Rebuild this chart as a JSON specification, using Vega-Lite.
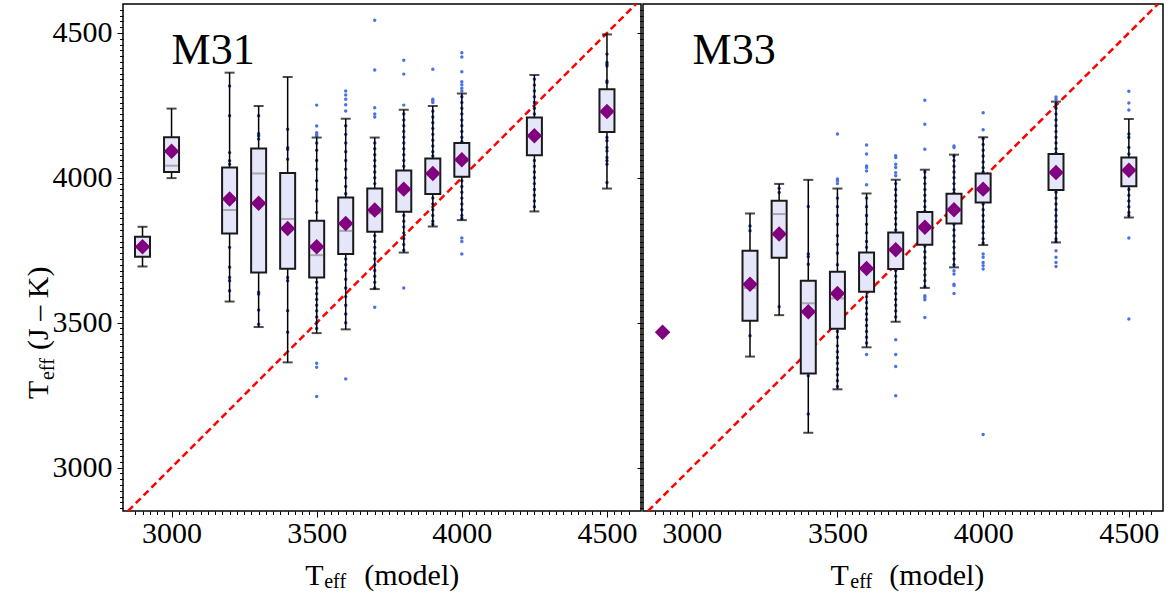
{
"$schema": "https://vega.github.io/schema/vega-lite/v6.json",
"padding": {"left": 23, "top": 2, "right": 0, "bottom": 0},
"bounds": "flush",
"spacing": 2,
"background": "white",
"config": {
 "view": {"stroke": "#000", "strokeWidth": 1.5},
 "axis": {"labelFont": "Liberation Serif", "labelFontSize": 30, "labelColor": "#000", "tickColor": "#000", "tickWidth": 1, "domain": false, "grid": false, "labelOverlap": false, "labelFlush": false},
 "axisX": {"labelPadding": 1},
 "axisY": {"labelPadding": 5},
 "text": {"font": "Liberation Serif", "color": "#000"}
},
"datasets": {
 "boxes": [
  {"g":"M31","t":2900,"lo":3694,"q1":3728,"med":3762,"q3":3797,"hi":3831,"mean":3762},
  {"g":"M31","t":3000,"lo":3999,"q1":4020,"med":4042,"q3":4140,"hi":4239,"mean":4092},
  {"g":"M31","t":3200,"lo":3573,"q1":3808,"med":3889,"q3":4036,"hi":4363,"mean":3927},
  {"g":"M31","t":3300,"lo":3485,"q1":3673,"med":4015,"q3":4101,"hi":4248,"mean":3912},
  {"g":"M31","t":3400,"lo":3363,"q1":3686,"med":3858,"q3":4017,"hi":4348,"mean":3825},
  {"g":"M31","t":3500,"lo":3464,"q1":3656,"med":3733,"q3":3852,"hi":4139,"mean":3762},
  {"g":"M31","t":3600,"lo":3477,"q1":3737,"med":3817,"q3":3932,"hi":4204,"mean":3842},
  {"g":"M31","t":3700,"lo":3616,"q1":3814,"med":3878,"q3":3963,"hi":4139,"mean":3889},
  {"g":"M31","t":3800,"lo":3742,"q1":3883,"med":3958,"q3":4025,"hi":4235,"mean":3961},
  {"g":"M31","t":3900,"lo":3832,"q1":3944,"med":4012,"q3":4067,"hi":4248,"mean":4015},
  {"g":"M31","t":4000,"lo":3854,"q1":4004,"med":4062,"q3":4120,"hi":4291,"mean":4062},
  {"g":"M31","t":4250,"lo":3884,"q1":4078,"med":4145,"q3":4208,"hi":4355,"mean":4145},
  {"g":"M31","t":4500,"lo":3963,"q1":4158,"med":4229,"q3":4306,"hi":4495,"mean":4229},
  {"g":"M33","t":2900,"mean":3467},
  {"g":"M33","t":3200,"lo":3383,"q1":3507,"med":3620,"q3":3748,"hi":3877,"mean":3633},
  {"g":"M33","t":3300,"lo":3526,"q1":3724,"med":3875,"q3":3921,"hi":3979,"mean":3806},
  {"g":"M33","t":3400,"lo":3120,"q1":3325,"med":3567,"q3":3645,"hi":3993,"mean":3538},
  {"g":"M33","t":3500,"lo":3270,"q1":3479,"med":3584,"q3":3676,"hi":3963,"mean":3601},
  {"g":"M33","t":3600,"lo":3415,"q1":3607,"med":3685,"q3":3742,"hi":3946,"mean":3687},
  {"g":"M33","t":3700,"lo":3503,"q1":3685,"med":3752,"q3":3811,"hi":3993,"mean":3752},
  {"g":"M33","t":3800,"lo":3620,"q1":3769,"med":3829,"q3":3882,"hi":4028,"mean":3829},
  {"g":"M33","t":3900,"lo":3691,"q1":3842,"med":3890,"q3":3945,"hi":4080,"mean":3890},
  {"g":"M33","t":4000,"lo":3768,"q1":3915,"med":3961,"q3":4015,"hi":4140,"mean":3961},
  {"g":"M33","t":4250,"lo":3777,"q1":3958,"med":4018,"q3":4082,"hi":4263,"mean":4018},
  {"g":"M33","t":4500,"lo":3863,"q1":3971,"med":4026,"q3":4070,"hi":4203,"mean":4026}
 ],
 "pts": [
  {"g":"M31","t":3500,"v":4251,"k":"o"},{"g":"M31","t":3500,"v":4179,"k":"o"},{"g":"M31","t":3500,"v":4156,"k":"o"},{"g":"M31","t":3500,"v":4151,"k":"o"},{"g":"M31","t":3500,"v":4145,"k":"o"},{"g":"M31","t":3500,"v":3360,"k":"o"},{"g":"M31","t":3500,"v":3346,"k":"o"},{"g":"M31","t":3500,"v":3245,"k":"o"},
  {"g":"M31","t":3600,"v":4300,"k":"o"},{"g":"M31","t":3600,"v":4286,"k":"o"},{"g":"M31","t":3600,"v":4271,"k":"o"},{"g":"M31","t":3600,"v":4252,"k":"o"},{"g":"M31","t":3600,"v":4231,"k":"o"},{"g":"M31","t":3600,"v":3306,"k":"o"},
  {"g":"M31","t":3700,"v":4544,"k":"o"},{"g":"M31","t":3700,"v":4372,"k":"o"},{"g":"M31","t":3700,"v":4242,"k":"o"},{"g":"M31","t":3700,"v":4220,"k":"o"},{"g":"M31","t":3700,"v":4210,"k":"o"},{"g":"M31","t":3700,"v":3553,"k":"o"},
  {"g":"M31","t":3800,"v":4406,"k":"o"},{"g":"M31","t":3800,"v":4358,"k":"o"},{"g":"M31","t":3800,"v":4251,"k":"o"},{"g":"M31","t":3800,"v":3620,"k":"o"},
  {"g":"M31","t":3900,"v":4375,"k":"o"},{"g":"M31","t":3900,"v":4271,"k":"o"},{"g":"M31","t":3900,"v":4266,"k":"o"},{"g":"M31","t":3900,"v":4260,"k":"o"},
  {"g":"M31","t":4000,"v":4432,"k":"o"},{"g":"M31","t":4000,"v":4417,"k":"o"},{"g":"M31","t":4000,"v":4366,"k":"o"},{"g":"M31","t":4000,"v":4332,"k":"o"},{"g":"M31","t":4000,"v":4321,"k":"o"},{"g":"M31","t":4000,"v":4309,"k":"o"},{"g":"M31","t":4000,"v":4300,"k":"o"},{"g":"M31","t":4000,"v":3792,"k":"o"},{"g":"M31","t":4000,"v":3780,"k":"o"},{"g":"M31","t":4000,"v":3737,"k":"o"},
  {"g":"M31","t":3200,"v":4317,"k":"i"},{"g":"M31","t":3200,"v":4214,"k":"i"},{"g":"M31","t":3200,"v":4087,"k":"i"},{"g":"M31","t":3200,"v":4059,"k":"i"},{"g":"M31","t":3200,"v":4047,"k":"i"},{"g":"M31","t":3200,"v":3760,"k":"i"},{"g":"M31","t":3200,"v":3691,"k":"i"},{"g":"M31","t":3200,"v":3656,"k":"i"},{"g":"M31","t":3200,"v":3645,"k":"i"},{"g":"M31","t":3200,"v":3610,"k":"i"},
  {"g":"M31","t":3300,"v":4214,"k":"i"},{"g":"M31","t":3300,"v":4152,"k":"i"},{"g":"M31","t":3300,"v":4145,"k":"i"},{"g":"M31","t":3300,"v":4134,"k":"i"},{"g":"M31","t":3300,"v":3605,"k":"i"},{"g":"M31","t":3300,"v":3599,"k":"i"},{"g":"M31","t":3300,"v":3544,"k":"i"},{"g":"M31","t":3300,"v":3495,"k":"i"},
  {"g":"M31","t":3400,"v":4168,"k":"i"},{"g":"M31","t":3400,"v":4104,"k":"i"},{"g":"M31","t":3400,"v":4099,"k":"i"},{"g":"M31","t":3400,"v":4064,"k":"i"},{"g":"M31","t":3400,"v":3656,"k":"i"},{"g":"M31","t":3400,"v":3645,"k":"i"},{"g":"M31","t":3400,"v":3541,"k":"i"},{"g":"M31","t":3400,"v":3467,"k":"i"},
  {"g":"M31","t":3500,"v":4120,"k":"i"},{"g":"M31","t":3500,"v":4095,"k":"i"},{"g":"M31","t":3500,"v":4060,"k":"i"},{"g":"M31","t":3500,"v":4030,"k":"i"},{"g":"M31","t":3500,"v":3990,"k":"i"},{"g":"M31","t":3500,"v":3960,"k":"i"},{"g":"M31","t":3500,"v":3920,"k":"i"},{"g":"M31","t":3500,"v":3880,"k":"i"},{"g":"M31","t":3500,"v":3640,"k":"i"},{"g":"M31","t":3500,"v":3620,"k":"i"},{"g":"M31","t":3500,"v":3600,"k":"i"},{"g":"M31","t":3500,"v":3580,"k":"i"},{"g":"M31","t":3500,"v":3560,"k":"i"},{"g":"M31","t":3500,"v":3540,"k":"i"},{"g":"M31","t":3500,"v":3520,"k":"i"},{"g":"M31","t":3500,"v":3500,"k":"i"},{"g":"M31","t":3500,"v":3480,"k":"i"},
  {"g":"M31","t":3600,"v":4180,"k":"i"},{"g":"M31","t":3600,"v":4150,"k":"i"},{"g":"M31","t":3600,"v":4120,"k":"i"},{"g":"M31","t":3600,"v":4090,"k":"i"},{"g":"M31","t":3600,"v":4060,"k":"i"},{"g":"M31","t":3600,"v":4030,"k":"i"},{"g":"M31","t":3600,"v":4000,"k":"i"},{"g":"M31","t":3600,"v":3970,"k":"i"},{"g":"M31","t":3600,"v":3945,"k":"i"},{"g":"M31","t":3600,"v":3720,"k":"i"},{"g":"M31","t":3600,"v":3700,"k":"i"},{"g":"M31","t":3600,"v":3680,"k":"i"},{"g":"M31","t":3600,"v":3650,"k":"i"},{"g":"M31","t":3600,"v":3620,"k":"i"},{"g":"M31","t":3600,"v":3590,"k":"i"},{"g":"M31","t":3600,"v":3560,"k":"i"},{"g":"M31","t":3600,"v":3530,"k":"i"},{"g":"M31","t":3600,"v":3500,"k":"i"},
  {"g":"M31","t":3700,"v":4120,"k":"i"},{"g":"M31","t":3700,"v":4100,"k":"i"},{"g":"M31","t":3700,"v":4080,"k":"i"},{"g":"M31","t":3700,"v":4060,"k":"i"},{"g":"M31","t":3700,"v":4040,"k":"i"},{"g":"M31","t":3700,"v":4020,"k":"i"},{"g":"M31","t":3700,"v":4000,"k":"i"},{"g":"M31","t":3700,"v":3980,"k":"i"},{"g":"M31","t":3700,"v":3800,"k":"i"},{"g":"M31","t":3700,"v":3780,"k":"i"},{"g":"M31","t":3700,"v":3760,"k":"i"},{"g":"M31","t":3700,"v":3740,"k":"i"},{"g":"M31","t":3700,"v":3720,"k":"i"},{"g":"M31","t":3700,"v":3700,"k":"i"},{"g":"M31","t":3700,"v":3680,"k":"i"},{"g":"M31","t":3700,"v":3660,"k":"i"},{"g":"M31","t":3700,"v":3640,"k":"i"},{"g":"M31","t":3700,"v":3620,"k":"i"},
  {"g":"M31","t":3800,"v":4220,"k":"i"},{"g":"M31","t":3800,"v":4200,"k":"i"},{"g":"M31","t":3800,"v":4180,"k":"i"},{"g":"M31","t":3800,"v":4160,"k":"i"},{"g":"M31","t":3800,"v":4140,"k":"i"},{"g":"M31","t":3800,"v":4120,"k":"i"},{"g":"M31","t":3800,"v":4100,"k":"i"},{"g":"M31","t":3800,"v":4080,"k":"i"},{"g":"M31","t":3800,"v":4060,"k":"i"},{"g":"M31","t":3800,"v":4040,"k":"i"},{"g":"M31","t":3800,"v":3870,"k":"i"},{"g":"M31","t":3800,"v":3850,"k":"i"},{"g":"M31","t":3800,"v":3830,"k":"i"},{"g":"M31","t":3800,"v":3810,"k":"i"},{"g":"M31","t":3800,"v":3790,"k":"i"},{"g":"M31","t":3800,"v":3770,"k":"i"},{"g":"M31","t":3800,"v":3750,"k":"i"},
  {"g":"M31","t":3900,"v":4230,"k":"i"},{"g":"M31","t":3900,"v":4210,"k":"i"},{"g":"M31","t":3900,"v":4190,"k":"i"},{"g":"M31","t":3900,"v":4170,"k":"i"},{"g":"M31","t":3900,"v":4150,"k":"i"},{"g":"M31","t":3900,"v":4130,"k":"i"},{"g":"M31","t":3900,"v":4110,"k":"i"},{"g":"M31","t":3900,"v":4090,"k":"i"},{"g":"M31","t":3900,"v":4075,"k":"i"},{"g":"M31","t":3900,"v":3930,"k":"i"},{"g":"M31","t":3900,"v":3910,"k":"i"},{"g":"M31","t":3900,"v":3890,"k":"i"},{"g":"M31","t":3900,"v":3870,"k":"i"},{"g":"M31","t":3900,"v":3850,"k":"i"},{"g":"M31","t":3900,"v":3840,"k":"i"},
  {"g":"M31","t":4000,"v":4280,"k":"i"},{"g":"M31","t":4000,"v":4260,"k":"i"},{"g":"M31","t":4000,"v":4240,"k":"i"},{"g":"M31","t":4000,"v":4220,"k":"i"},{"g":"M31","t":4000,"v":4200,"k":"i"},{"g":"M31","t":4000,"v":4180,"k":"i"},{"g":"M31","t":4000,"v":4160,"k":"i"},{"g":"M31","t":4000,"v":4140,"k":"i"},{"g":"M31","t":4000,"v":4125,"k":"i"},{"g":"M31","t":4000,"v":3990,"k":"i"},{"g":"M31","t":4000,"v":3970,"k":"i"},{"g":"M31","t":4000,"v":3950,"k":"i"},{"g":"M31","t":4000,"v":3930,"k":"i"},{"g":"M31","t":4000,"v":3910,"k":"i"},{"g":"M31","t":4000,"v":3890,"k":"i"},{"g":"M31","t":4000,"v":3870,"k":"i"},{"g":"M31","t":4000,"v":3860,"k":"i"},
  {"g":"M31","t":4250,"v":4340,"k":"i"},{"g":"M31","t":4250,"v":4320,"k":"i"},{"g":"M31","t":4250,"v":4300,"k":"i"},{"g":"M31","t":4250,"v":4280,"k":"i"},{"g":"M31","t":4250,"v":4260,"k":"i"},{"g":"M31","t":4250,"v":4240,"k":"i"},{"g":"M31","t":4250,"v":4220,"k":"i"},{"g":"M31","t":4250,"v":4060,"k":"i"},{"g":"M31","t":4250,"v":4040,"k":"i"},{"g":"M31","t":4250,"v":4020,"k":"i"},{"g":"M31","t":4250,"v":4000,"k":"i"},{"g":"M31","t":4250,"v":3980,"k":"i"},{"g":"M31","t":4250,"v":3960,"k":"i"},{"g":"M31","t":4250,"v":3940,"k":"i"},{"g":"M31","t":4250,"v":3920,"k":"i"},{"g":"M31","t":4250,"v":3900,"k":"i"},
  {"g":"M31","t":4500,"v":4427,"k":"i"},{"g":"M31","t":4500,"v":4398,"k":"i"},{"g":"M31","t":4500,"v":4392,"k":"i"},{"g":"M31","t":4500,"v":4386,"k":"i"},{"g":"M31","t":4500,"v":4334,"k":"i"},{"g":"M31","t":4500,"v":4329,"k":"i"},{"g":"M31","t":4500,"v":4139,"k":"i"},{"g":"M31","t":4500,"v":4128,"k":"i"},{"g":"M31","t":4500,"v":4105,"k":"i"},{"g":"M31","t":4500,"v":4093,"k":"i"},{"g":"M31","t":4500,"v":4070,"k":"i"},{"g":"M31","t":4500,"v":4059,"k":"i"},{"g":"M31","t":4500,"v":4047,"k":"i"},{"g":"M31","t":4500,"v":3984,"k":"i"},
  {"g":"M33","t":3500,"v":4151,"k":"o"},{"g":"M33","t":3500,"v":3996,"k":"o"},{"g":"M33","t":3500,"v":3990,"k":"o"},{"g":"M33","t":3500,"v":3980,"k":"o"},
  {"g":"M33","t":3600,"v":4113,"k":"o"},{"g":"M33","t":3600,"v":4082,"k":"o"},{"g":"M33","t":3600,"v":4041,"k":"o"},{"g":"M33","t":3600,"v":4036,"k":"o"},{"g":"M33","t":3600,"v":4024,"k":"o"},{"g":"M33","t":3600,"v":3976,"k":"o"},{"g":"M33","t":3600,"v":3390,"k":"o"},
  {"g":"M33","t":3700,"v":4076,"k":"o"},{"g":"M33","t":3700,"v":4070,"k":"o"},{"g":"M33","t":3700,"v":4047,"k":"o"},{"g":"M33","t":3700,"v":4036,"k":"o"},{"g":"M33","t":3700,"v":4018,"k":"o"},{"g":"M33","t":3700,"v":4007,"k":"o"},{"g":"M33","t":3700,"v":3441,"k":"o"},{"g":"M33","t":3700,"v":3390,"k":"o"},{"g":"M33","t":3700,"v":3349,"k":"o"},{"g":"M33","t":3700,"v":3248,"k":"o"},
  {"g":"M33","t":3800,"v":4268,"k":"o"},{"g":"M33","t":3800,"v":4185,"k":"o"},{"g":"M33","t":3800,"v":4099,"k":"o"},{"g":"M33","t":3800,"v":3593,"k":"o"},{"g":"M33","t":3800,"v":3587,"k":"o"},{"g":"M33","t":3800,"v":3579,"k":"o"},{"g":"M33","t":3800,"v":3518,"k":"o"},
  {"g":"M33","t":3900,"v":4110,"k":"o"},{"g":"M33","t":3900,"v":4105,"k":"o"},{"g":"M33","t":3900,"v":3679,"k":"o"},{"g":"M33","t":3900,"v":3668,"k":"o"},{"g":"M33","t":3900,"v":3633,"k":"o"},{"g":"M33","t":3900,"v":3628,"k":"o"},{"g":"M33","t":3900,"v":3601,"k":"o"},
  {"g":"M33","t":4000,"v":4225,"k":"o"},{"g":"M33","t":4000,"v":4166,"k":"o"},{"g":"M33","t":4000,"v":3737,"k":"o"},{"g":"M33","t":4000,"v":3726,"k":"o"},{"g":"M33","t":4000,"v":3708,"k":"o"},{"g":"M33","t":4000,"v":3697,"k":"o"},{"g":"M33","t":4000,"v":3685,"k":"o"},{"g":"M33","t":4000,"v":3114,"k":"o"},
  {"g":"M33","t":4250,"v":4279,"k":"o"},{"g":"M33","t":4250,"v":4271,"k":"o"},{"g":"M33","t":4250,"v":3748,"k":"o"},{"g":"M33","t":4250,"v":3726,"k":"o"},{"g":"M33","t":4250,"v":3708,"k":"o"},{"g":"M33","t":4250,"v":3694,"k":"o"},
  {"g":"M33","t":4500,"v":4299,"k":"o"},{"g":"M33","t":4500,"v":4258,"k":"o"},{"g":"M33","t":4500,"v":4234,"k":"o"},{"g":"M33","t":4500,"v":3792,"k":"o"},{"g":"M33","t":4500,"v":3513,"k":"o"},
  {"g":"M33","t":3200,"v":3834,"k":"i"},{"g":"M33","t":3200,"v":3817,"k":"i"},{"g":"M33","t":3200,"v":3455,"k":"i"},
  {"g":"M33","t":3300,"v":3964,"k":"i"},{"g":"M33","t":3300,"v":3949,"k":"i"},{"g":"M33","t":3300,"v":3555,"k":"i"},
  {"g":"M33","t":3400,"v":3901,"k":"i"},{"g":"M33","t":3400,"v":3737,"k":"i"},{"g":"M33","t":3400,"v":3728,"k":"i"},{"g":"M33","t":3400,"v":3702,"k":"i"},{"g":"M33","t":3400,"v":3317,"k":"i"},{"g":"M33","t":3400,"v":3185,"k":"i"},
  {"g":"M33","t":3500,"v":3930,"k":"i"},{"g":"M33","t":3500,"v":3900,"k":"i"},{"g":"M33","t":3500,"v":3870,"k":"i"},{"g":"M33","t":3500,"v":3840,"k":"i"},{"g":"M33","t":3500,"v":3800,"k":"i"},{"g":"M33","t":3500,"v":3770,"k":"i"},{"g":"M33","t":3500,"v":3740,"k":"i"},{"g":"M33","t":3500,"v":3700,"k":"i"},{"g":"M33","t":3500,"v":3470,"k":"i"},{"g":"M33","t":3500,"v":3450,"k":"i"},{"g":"M33","t":3500,"v":3420,"k":"i"},{"g":"M33","t":3500,"v":3400,"k":"i"},{"g":"M33","t":3500,"v":3380,"k":"i"},{"g":"M33","t":3500,"v":3360,"k":"i"},{"g":"M33","t":3500,"v":3340,"k":"i"},{"g":"M33","t":3500,"v":3320,"k":"i"},{"g":"M33","t":3500,"v":3300,"k":"i"},{"g":"M33","t":3500,"v":3280,"k":"i"},
  {"g":"M33","t":3600,"v":3930,"k":"i"},{"g":"M33","t":3600,"v":3900,"k":"i"},{"g":"M33","t":3600,"v":3870,"k":"i"},{"g":"M33","t":3600,"v":3840,"k":"i"},{"g":"M33","t":3600,"v":3810,"k":"i"},{"g":"M33","t":3600,"v":3780,"k":"i"},{"g":"M33","t":3600,"v":3760,"k":"i"},{"g":"M33","t":3600,"v":3590,"k":"i"},{"g":"M33","t":3600,"v":3570,"k":"i"},{"g":"M33","t":3600,"v":3550,"k":"i"},{"g":"M33","t":3600,"v":3530,"k":"i"},{"g":"M33","t":3600,"v":3510,"k":"i"},{"g":"M33","t":3600,"v":3490,"k":"i"},{"g":"M33","t":3600,"v":3470,"k":"i"},{"g":"M33","t":3600,"v":3450,"k":"i"},{"g":"M33","t":3600,"v":3430,"k":"i"},
  {"g":"M33","t":3700,"v":3980,"k":"i"},{"g":"M33","t":3700,"v":3960,"k":"i"},{"g":"M33","t":3700,"v":3940,"k":"i"},{"g":"M33","t":3700,"v":3920,"k":"i"},{"g":"M33","t":3700,"v":3900,"k":"i"},{"g":"M33","t":3700,"v":3880,"k":"i"},{"g":"M33","t":3700,"v":3860,"k":"i"},{"g":"M33","t":3700,"v":3840,"k":"i"},{"g":"M33","t":3700,"v":3820,"k":"i"},{"g":"M33","t":3700,"v":3680,"k":"i"},{"g":"M33","t":3700,"v":3660,"k":"i"},{"g":"M33","t":3700,"v":3640,"k":"i"},{"g":"M33","t":3700,"v":3620,"k":"i"},{"g":"M33","t":3700,"v":3600,"k":"i"},{"g":"M33","t":3700,"v":3580,"k":"i"},{"g":"M33","t":3700,"v":3560,"k":"i"},{"g":"M33","t":3700,"v":3540,"k":"i"},{"g":"M33","t":3700,"v":3520,"k":"i"},
  {"g":"M33","t":3800,"v":4020,"k":"i"},{"g":"M33","t":3800,"v":4000,"k":"i"},{"g":"M33","t":3800,"v":3980,"k":"i"},{"g":"M33","t":3800,"v":3960,"k":"i"},{"g":"M33","t":3800,"v":3940,"k":"i"},{"g":"M33","t":3800,"v":3920,"k":"i"},{"g":"M33","t":3800,"v":3900,"k":"i"},{"g":"M33","t":3800,"v":3885,"k":"i"},{"g":"M33","t":3800,"v":3765,"k":"i"},{"g":"M33","t":3800,"v":3745,"k":"i"},{"g":"M33","t":3800,"v":3725,"k":"i"},{"g":"M33","t":3800,"v":3705,"k":"i"},{"g":"M33","t":3800,"v":3685,"k":"i"},{"g":"M33","t":3800,"v":3665,"k":"i"},{"g":"M33","t":3800,"v":3645,"k":"i"},{"g":"M33","t":3800,"v":3625,"k":"i"},
  {"g":"M33","t":3900,"v":4075,"k":"i"},{"g":"M33","t":3900,"v":4060,"k":"i"},{"g":"M33","t":3900,"v":4040,"k":"i"},{"g":"M33","t":3900,"v":4020,"k":"i"},{"g":"M33","t":3900,"v":4000,"k":"i"},{"g":"M33","t":3900,"v":3980,"k":"i"},{"g":"M33","t":3900,"v":3960,"k":"i"},{"g":"M33","t":3900,"v":3948,"k":"i"},{"g":"M33","t":3900,"v":3840,"k":"i"},{"g":"M33","t":3900,"v":3820,"k":"i"},{"g":"M33","t":3900,"v":3800,"k":"i"},{"g":"M33","t":3900,"v":3780,"k":"i"},{"g":"M33","t":3900,"v":3760,"k":"i"},{"g":"M33","t":3900,"v":3740,"k":"i"},{"g":"M33","t":3900,"v":3720,"k":"i"},{"g":"M33","t":3900,"v":3700,"k":"i"},
  {"g":"M33","t":4000,"v":4135,"k":"i"},{"g":"M33","t":4000,"v":4115,"k":"i"},{"g":"M33","t":4000,"v":4095,"k":"i"},{"g":"M33","t":4000,"v":4075,"k":"i"},{"g":"M33","t":4000,"v":4055,"k":"i"},{"g":"M33","t":4000,"v":4035,"k":"i"},{"g":"M33","t":4000,"v":4020,"k":"i"},{"g":"M33","t":4000,"v":3910,"k":"i"},{"g":"M33","t":4000,"v":3890,"k":"i"},{"g":"M33","t":4000,"v":3870,"k":"i"},{"g":"M33","t":4000,"v":3850,"k":"i"},{"g":"M33","t":4000,"v":3830,"k":"i"},{"g":"M33","t":4000,"v":3810,"k":"i"},{"g":"M33","t":4000,"v":3790,"k":"i"},{"g":"M33","t":4000,"v":3775,"k":"i"},
  {"g":"M33","t":4250,"v":4255,"k":"i"},{"g":"M33","t":4250,"v":4240,"k":"i"},{"g":"M33","t":4250,"v":4220,"k":"i"},{"g":"M33","t":4250,"v":4200,"k":"i"},{"g":"M33","t":4250,"v":4180,"k":"i"},{"g":"M33","t":4250,"v":4160,"k":"i"},{"g":"M33","t":4250,"v":4140,"k":"i"},{"g":"M33","t":4250,"v":4120,"k":"i"},{"g":"M33","t":4250,"v":4100,"k":"i"},{"g":"M33","t":4250,"v":4085,"k":"i"},{"g":"M33","t":4250,"v":3950,"k":"i"},{"g":"M33","t":4250,"v":3930,"k":"i"},{"g":"M33","t":4250,"v":3910,"k":"i"},{"g":"M33","t":4250,"v":3890,"k":"i"},{"g":"M33","t":4250,"v":3870,"k":"i"},{"g":"M33","t":4250,"v":3850,"k":"i"},{"g":"M33","t":4250,"v":3830,"k":"i"},{"g":"M33","t":4250,"v":3810,"k":"i"},{"g":"M33","t":4250,"v":3790,"k":"i"},{"g":"M33","t":4250,"v":3780,"k":"i"},
  {"g":"M33","t":4500,"v":4151,"k":"i"},{"g":"M33","t":4500,"v":4139,"k":"i"},{"g":"M33","t":4500,"v":4105,"k":"i"},{"g":"M33","t":4500,"v":4082,"k":"i"},{"g":"M33","t":4500,"v":3960,"k":"i"},{"g":"M33","t":4500,"v":3940,"k":"i"},{"g":"M33","t":4500,"v":3920,"k":"i"},{"g":"M33","t":4500,"v":3900,"k":"i"},{"g":"M33","t":4500,"v":3880,"k":"i"},{"g":"M33","t":4500,"v":3870,"k":"i"}
 ]
},
"hconcat": [
 {
  "width": 518, "height": 507,
  "layer": [
   {"data": {"values": [{}]}, "mark": {"type": "rule", "color": "#ff0000", "strokeWidth": 2.5, "strokeDash": [7, 4]},
    "encoding": {
     "x": {"datum": 2850, "type": "quantitative", "scale": {"domain": [2850, 4600], "nice": false, "zero": false},
      "axis": {"title": null, "format": "d", "labelFont": "Liberation Serif", "labelFontSize": {"condition": {"test": "datum.value % 500 === 0", "value": 30}, "value": 1}, "tickCount": 200, "values": [2875,2900,2925,2950,2975,3000,3025,3050,3075,3100,3125,3150,3175,3200,3225,3250,3275,3300,3325,3350,3375,3400,3425,3450,3475,3500,3525,3550,3575,3600,3625,3650,3675,3700,3725,3750,3775,3800,3825,3850,3875,3900,3925,3950,3975,4000,4025,4050,4075,4100,4125,4150,4175,4200,4225,4250,4275,4300,4325,4350,4375,4400,4425,4450,4475,4500,4525,4550,4575], "labelExpr": "datum.value % 500 === 0 ? datum.label : ''", "tickSize": {"condition": {"test": "datum.value % 500 === 0", "value": 6}, "value": 3.5}}},
     "y": {"datum": 2850, "type": "quantitative", "scale": {"domain": [2850, 4600], "nice": false, "zero": false},
      "axis": {"title": null, "format": "d", "labelFont": "Liberation Serif", "labelFontSize": {"condition": {"test": "datum.value % 500 === 0", "value": 30}, "value": 1}, "tickCount": 200, "values": [2860,2880,2900,2920,2940,2960,2980,3000,3020,3040,3060,3080,3100,3120,3140,3160,3180,3200,3220,3240,3260,3280,3300,3320,3340,3360,3380,3400,3420,3440,3460,3480,3500,3520,3540,3560,3580,3600,3620,3640,3660,3680,3700,3720,3740,3760,3780,3800,3820,3840,3860,3880,3900,3920,3940,3960,3980,4000,4020,4040,4060,4080,4100,4120,4140,4160,4180,4200,4220,4240,4260,4280,4300,4320,4340,4360,4380,4400,4420,4440,4460,4480,4500,4520,4540,4560,4580], "labelExpr": "datum.value % 500 === 0 ? datum.label : ''", "tickSize": {"condition": {"test": "datum.value % 500 === 0", "value": 6}, "value": 3.5}}},
     "x2": {"datum": 4600}, "y2": {"datum": 4600}
    }},
   {"data": {"name": "pts"}, "transform": [{"filter": "datum.g === 'M31'"}],
    "mark": {"type": "point", "shape": "circle", "filled": true, "size": 12, "opacity": 1},
    "encoding": {"x": {"field": "t", "type": "quantitative", "title": null}, "y": {"field": "v", "type": "quantitative", "title": null},
     "color": {"field": "k", "type": "nominal", "scale": {"domain": ["i", "o"], "range": ["#2440b0", "#4a72e8"]}, "legend": null}}},
   {"data": {"name": "boxes"}, "transform": [{"filter": "datum.g === 'M31'"}],
    "mark": {"type": "rule", "color": "#000", "strokeWidth": 1.5},
    "encoding": {"x": {"field": "t", "type": "quantitative", "title": null}, "y": {"field": "lo", "type": "quantitative", "title": null}, "y2": {"field": "hi"}}},
   {"data": {"name": "boxes"}, "transform": [{"filter": "datum.g === 'M31'"}],
    "mark": {"type": "tick", "orient": "horizontal", "size": 10, "thickness": 2, "color": "#000"},
    "encoding": {"x": {"field": "t", "type": "quantitative", "title": null}, "y": {"field": "lo", "type": "quantitative", "title": null}}},
   {"data": {"name": "boxes"}, "transform": [{"filter": "datum.g === 'M31'"}],
    "mark": {"type": "tick", "orient": "horizontal", "size": 10, "thickness": 2, "color": "#000"},
    "encoding": {"x": {"field": "t", "type": "quantitative", "title": null}, "y": {"field": "hi", "type": "quantitative", "title": null}}},
   {"data": {"name": "boxes"}, "transform": [{"filter": "datum.g === 'M31'"}],
    "mark": {"type": "bar", "width": 15, "fill": "#e6e6fa", "stroke": "#1a1a1a", "strokeWidth": 2},
    "encoding": {"x": {"field": "t", "type": "quantitative", "title": null}, "y": {"field": "q1", "type": "quantitative", "title": null}, "y2": {"field": "q3"}}},
   {"data": {"name": "boxes"}, "transform": [{"filter": "datum.g === 'M31'"}],
    "mark": {"type": "tick", "orient": "horizontal", "size": 13, "thickness": 2, "color": "#8c8c8c"},
    "encoding": {"x": {"field": "t", "type": "quantitative", "title": null}, "y": {"field": "med", "type": "quantitative", "title": null}}},
   {"data": {"name": "boxes"}, "transform": [{"filter": "datum.g === 'M31'"}],
    "mark": {"type": "point", "shape": "diamond", "filled": true, "size": 240, "color": "#800080", "opacity": 1},
    "encoding": {"x": {"field": "t", "type": "quantitative", "title": null}, "y": {"field": "mean", "type": "quantitative", "title": null}}},
   {"data": {"values": [{"label": "M31"}]}, "mark": {"type": "text", "font": "Liberation Serif", "fontSize": 44, "align": "left", "baseline": "alphabetic"},
    "encoding": {"x": {"datum": 3000}, "y": {"datum": 4393}, "text": {"field": "label"}}},
   {"data": {"values": [{"label": "T"}]}, "mark": {"type": "text", "font": "Liberation Serif", "fontSize": 30, "align": "left", "baseline": "alphabetic"},
    "encoding": {"x": {"datum": 3461}, "y": {"datum": 2593}, "text": {"field": "label"}}},
   {"data": {"values": [{"label": "eff"}]}, "mark": {"type": "text", "font": "Liberation Serif", "fontSize": 20, "align": "left", "baseline": "alphabetic"},
    "encoding": {"x": {"datum": 3526}, "y": {"datum": 2583}, "text": {"field": "label"}}},
   {"data": {"values": [{"label": "(model)"}]}, "mark": {"type": "text", "font": "Liberation Serif", "fontSize": 30, "align": "left", "baseline": "alphabetic"},
    "encoding": {"x": {"datum": 3664}, "y": {"datum": 2593}, "text": {"field": "label"}}},
   {"data": {"values": [{"label": "T"}]}, "mark": {"type": "text", "font": "Liberation Serif", "fontSize": 30, "align": "left", "baseline": "alphabetic", "angle": 270},
    "encoding": {"x": {"datum": 2576}, "y": {"datum": 3237}, "text": {"field": "label"}}},
   {"data": {"values": [{"label": "eff"}]}, "mark": {"type": "text", "font": "Liberation Serif", "fontSize": 20, "align": "left", "baseline": "alphabetic", "angle": 270},
    "encoding": {"x": {"datum": 2594}, "y": {"datum": 3302}, "text": {"field": "label"}}},
   {"data": {"values": [{"label": "(J – K)"}]}, "mark": {"type": "text", "font": "Liberation Serif", "fontSize": 30, "align": "left", "baseline": "alphabetic", "angle": 270},
    "encoding": {"x": {"datum": 2576}, "y": {"datum": 3406}, "text": {"field": "label"}}}
  ]
 },
 {
  "width": 520, "height": 507,
  "layer": [
   {"data": {"values": [{}]}, "mark": {"type": "rule", "color": "#ff0000", "strokeWidth": 2.5, "strokeDash": [7, 4]},
    "encoding": {
     "x": {"datum": 2850, "type": "quantitative", "scale": {"domain": [2850, 4600], "nice": false, "zero": false},
      "axis": {"title": null, "format": "d", "labelFont": "Liberation Serif", "labelFontSize": {"condition": {"test": "datum.value % 500 === 0", "value": 30}, "value": 1}, "tickCount": 200, "values": [2875,2900,2925,2950,2975,3000,3025,3050,3075,3100,3125,3150,3175,3200,3225,3250,3275,3300,3325,3350,3375,3400,3425,3450,3475,3500,3525,3550,3575,3600,3625,3650,3675,3700,3725,3750,3775,3800,3825,3850,3875,3900,3925,3950,3975,4000,4025,4050,4075,4100,4125,4150,4175,4200,4225,4250,4275,4300,4325,4350,4375,4400,4425,4450,4475,4500,4525,4550,4575], "labelExpr": "datum.value % 500 === 0 ? datum.label : ''", "tickSize": {"condition": {"test": "datum.value % 500 === 0", "value": 6}, "value": 3.5}}},
     "y": {"datum": 2850, "type": "quantitative", "scale": {"domain": [2850, 4600], "nice": false, "zero": false},
      "axis": {"title": null, "labels": false, "tickCount": 200, "values": [2860,2880,2900,2920,2940,2960,2980,3000,3020,3040,3060,3080,3100,3120,3140,3160,3180,3200,3220,3240,3260,3280,3300,3320,3340,3360,3380,3400,3420,3440,3460,3480,3500,3520,3540,3560,3580,3600,3620,3640,3660,3680,3700,3720,3740,3760,3780,3800,3820,3840,3860,3880,3900,3920,3940,3960,3980,4000,4020,4040,4060,4080,4100,4120,4140,4160,4180,4200,4220,4240,4260,4280,4300,4320,4340,4360,4380,4400,4420,4440,4460,4480,4500,4520,4540,4560,4580], "tickSize": {"condition": {"test": "datum.value % 500 === 0", "value": 6}, "value": 3.5}}},
     "x2": {"datum": 4600}, "y2": {"datum": 4600}
    }},
   {"data": {"name": "pts"}, "transform": [{"filter": "datum.g === 'M33'"}],
    "mark": {"type": "point", "shape": "circle", "filled": true, "size": 12, "opacity": 1},
    "encoding": {"x": {"field": "t", "type": "quantitative", "title": null}, "y": {"field": "v", "type": "quantitative", "title": null},
     "color": {"field": "k", "type": "nominal", "scale": {"domain": ["i", "o"], "range": ["#2440b0", "#4a72e8"]}, "legend": null}}},
   {"data": {"name": "boxes"}, "transform": [{"filter": "datum.g === 'M33'"}],
    "mark": {"type": "rule", "color": "#000", "strokeWidth": 1.5},
    "encoding": {"x": {"field": "t", "type": "quantitative", "title": null}, "y": {"field": "lo", "type": "quantitative", "title": null}, "y2": {"field": "hi"}}},
   {"data": {"name": "boxes"}, "transform": [{"filter": "datum.g === 'M33'"}],
    "mark": {"type": "tick", "orient": "horizontal", "size": 10, "thickness": 2, "color": "#000"},
    "encoding": {"x": {"field": "t", "type": "quantitative", "title": null}, "y": {"field": "lo", "type": "quantitative", "title": null}}},
   {"data": {"name": "boxes"}, "transform": [{"filter": "datum.g === 'M33'"}],
    "mark": {"type": "tick", "orient": "horizontal", "size": 10, "thickness": 2, "color": "#000"},
    "encoding": {"x": {"field": "t", "type": "quantitative", "title": null}, "y": {"field": "hi", "type": "quantitative", "title": null}}},
   {"data": {"name": "boxes"}, "transform": [{"filter": "datum.g === 'M33'"}],
    "mark": {"type": "bar", "width": 15, "fill": "#e6e6fa", "stroke": "#1a1a1a", "strokeWidth": 2},
    "encoding": {"x": {"field": "t", "type": "quantitative", "title": null}, "y": {"field": "q1", "type": "quantitative", "title": null}, "y2": {"field": "q3"}}},
   {"data": {"name": "boxes"}, "transform": [{"filter": "datum.g === 'M33'"}],
    "mark": {"type": "tick", "orient": "horizontal", "size": 13, "thickness": 2, "color": "#8c8c8c"},
    "encoding": {"x": {"field": "t", "type": "quantitative", "title": null}, "y": {"field": "med", "type": "quantitative", "title": null}}},
   {"data": {"name": "boxes"}, "transform": [{"filter": "datum.g === 'M33'"}],
    "mark": {"type": "point", "shape": "diamond", "filled": true, "size": 240, "color": "#800080", "opacity": 1},
    "encoding": {"x": {"field": "t", "type": "quantitative", "title": null}, "y": {"field": "mean", "type": "quantitative", "title": null}}},
   {"data": {"values": [{"label": "M33"}]}, "mark": {"type": "text", "font": "Liberation Serif", "fontSize": 44, "align": "left", "baseline": "alphabetic"},
    "encoding": {"x": {"datum": 3003}, "y": {"datum": 4393}, "text": {"field": "label"}}},
   {"data": {"values": [{"label": "T"}]}, "mark": {"type": "text", "font": "Liberation Serif", "fontSize": 30, "align": "left", "baseline": "alphabetic"},
    "encoding": {"x": {"datum": 3476}, "y": {"datum": 2593}, "text": {"field": "label"}}},
   {"data": {"values": [{"label": "eff"}]}, "mark": {"type": "text", "font": "Liberation Serif", "fontSize": 20, "align": "left", "baseline": "alphabetic"},
    "encoding": {"x": {"datum": 3544}, "y": {"datum": 2583}, "text": {"field": "label"}}},
   {"data": {"values": [{"label": "(model)"}]}, "mark": {"type": "text", "font": "Liberation Serif", "fontSize": 30, "align": "left", "baseline": "alphabetic"},
    "encoding": {"x": {"datum": 3678}, "y": {"datum": 2593}, "text": {"field": "label"}}}
  ]
 }
]
}
